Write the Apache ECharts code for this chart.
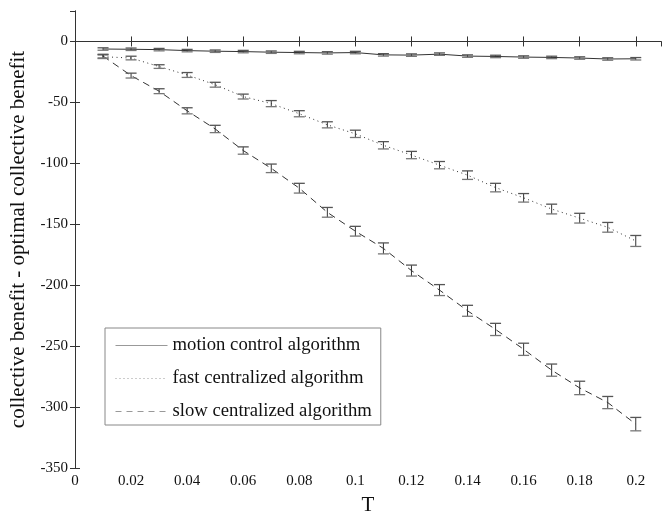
<!DOCTYPE html>
<html>
<head>
<meta charset="utf-8">
<script src="https://cdn.jsdelivr.net/npm/echarts@6/dist/echarts.min.js"></script>
<style>html,body{margin:0;padding:0;background:#fff}#chart{width:662px;height:521px}</style>
</head>
<body>
<div id="chart"></div>
<script>
var T = [0.01,0.02,0.03,0.04,0.05,0.06,0.07,0.08,0.09,0.10,0.11,0.12,0.13,0.14,0.15,0.16,0.17,0.18,0.19,0.20];
var seriesNames = ['motion control algorithm','fast centralized algorithm','slow centralized algorithm'];
var motion = [-6.2,-6.4,-6.7,-7.5,-8.0,-8.3,-8.8,-9.1,-9.4,-9.1,-11.0,-11.2,-10.4,-12.0,-12.3,-12.8,-13.1,-13.6,-14.4,-14.2];
var motionErr = [1,1,1,1,1,1,1,1,1,1,1,1,1,1,1,1,1,1,1,1];
var fast = [-12.5,-13.6,-20.6,-27.5,-35.5,-45.2,-51.0,-59.3,-68.4,-75.8,-85.2,-93.2,-101.5,-109.7,-119.9,-128.3,-137.5,-145.0,-152.5,-163.7];
var fastErr = [1.5,1.5,1.5,2,2,2,2.5,2.5,2.5,3,3,3,3,3.5,3.5,3.5,4,4,4,4.5];
var slow = [-12.0,-28.0,-40.8,-56.9,-71.8,-89.5,-104.1,-120.4,-140.2,-155.7,-169.8,-188.0,-204.0,-221.0,-236.3,-252.6,-269.7,-284.3,-296.3,-314.0];
var slowErr = [1.5,2,2,2.5,3,3,3.5,4,4,4,4.5,4.5,4.5,4.5,5,5,5,5.5,5,5.5];
var xTicks = [0,0.02,0.04,0.06,0.08,0.1,0.12,0.14,0.16,0.18,0.2];

var font = 'Liberation Serif, Times New Roman, serif';
function pairs(vals){ return T.map(function(t,i){ return [t, vals[i]]; }); }
function errData(vals, errs){ return T.map(function(t,i){ return [t, vals[i]-errs[i], vals[i]+errs[i]]; }); }

function renderErr(params, api){
  var x = api.value(0);
  var lo = api.coord([x, api.value(1)]);
  var hi = api.coord([x, api.value(2)]);
  var w = 5.5;
  return {
    type: 'group',
    children: [
      {type:'line', shape:{x1:lo[0],y1:lo[1],x2:hi[0],y2:hi[1]}, style:{stroke:'#333',lineWidth:1}},
      {type:'line', shape:{x1:lo[0]-w,y1:lo[1],x2:lo[0]+w,y2:lo[1]}, style:{stroke:'#777',lineWidth:1.3}},
      {type:'line', shape:{x1:hi[0]-w,y1:hi[1],x2:hi[0]+w,y2:hi[1]}, style:{stroke:'#555',lineWidth:1.3}}
    ]
  };
}

function lineSeries(name, vals, type){
  var ls = {color:'#333', width:1, type:type};
  if (type === 'dashed') { ls.type = [7,5]; }
  if (type === 'dotted') { ls.type = [1,3.5]; }
  return {name:name, type:'line', data:pairs(vals), symbol:'none', lineStyle:ls, itemStyle:{color:'#333'}, z:3, animation:false};
}
function errSeries(vals, errs){
  return {type:'custom', renderItem:renderErr, data:errData(vals, errs), encode:{x:0,y:[1,2]}, z:4, silent:true, animation:false};
}

var chart = echarts.init(document.getElementById('chart'), null, {renderer:'canvas'});
var axisLine = {show:true, lineStyle:{color:'#333', width:1}};
var hidden = {opacity:0, color:'transparent', borderWidth:0};
chart.setOption({
  backgroundColor:'#fff',
  animation:false,
  grid:{left:69, right:1, top:11, bottom:42, containLabel:false},
  xAxis:[
    {type:'value', min:0, max:0.209, interval:0.02, position:'bottom',
     axisLine:axisLine, axisTick:{show:true, inside:true, length:5, lineStyle:{color:'#333'}},
     splitLine:{show:false},
     axisLabel:{color:'#111', fontFamily:font, fontSize:15, margin:6,
       formatter:function(v){ var r=Math.round(v*100)/100; return xTicks.indexOf(r)>=0 ? String(r) : ''; }, showMaxLabel:false},
     name:'T', nameLocation:'middle', nameGap:27, nameTextStyle:{color:'#111', fontFamily:font, fontSize:21}},
    {type:'value', min:0, max:0.209, interval:0.02, position:'top',
     axisLine:axisLine, axisTick:{show:true, inside:true, length:5, lineStyle:{color:'#333'}},
     splitLine:{show:false}, axisLabel:{show:false}}
  ],
  yAxis:[
    {type:'value', min:-350, max:25, interval:50, position:'left',
     axisLine:axisLine, axisTick:{show:true, inside:true, length:5, lineStyle:{color:'#333'}},
     splitLine:{show:false},
     axisLabel:{color:'#111', fontFamily:font, fontSize:15, margin:7, showMaxLabel:false,
       formatter:function(v){ return v>0 ? '' : String(v); }},
     name:'collective benefit - optimal collective benefit', nameLocation:'middle', nameGap:46,
     nameTextStyle:{color:'#111', fontFamily:font, fontSize:21}},
    {type:'value', min:-350, max:25, interval:50, position:'right',
     axisLine:axisLine, axisTick:{show:true, inside:true, length:5, lineStyle:{color:'#333'}},
     splitLine:{show:false}, axisLabel:{show:false}}
  ],
  legend:{
    left:105, top:328, orient:'vertical', backgroundColor:'#fff',
    borderColor:'#888', borderWidth:1, borderRadius:0,
    padding:[8,9,4,10], itemGap:14, itemWidth:52, itemHeight:15,
    textStyle:{color:'#111', fontFamily:font, fontSize:18.7},
    data:[
      {name:seriesNames[0], itemStyle:hidden, lineStyle:{color:'#999', type:'solid', width:1}},
      {name:seriesNames[1], itemStyle:hidden, lineStyle:{color:'#999', type:[1,3], width:1}},
      {name:seriesNames[2], itemStyle:hidden, lineStyle:{color:'#999', type:[6,5], width:1}}
    ]
  },
  series:[
    lineSeries(seriesNames[0], motion, 'solid'),
    lineSeries(seriesNames[1], fast, 'dotted'),
    lineSeries(seriesNames[2], slow, 'dashed'),
    errSeries(motion, motionErr),
    errSeries(fast, fastErr),
    errSeries(slow, slowErr)
  ]
});
</script>
</body>
</html>
